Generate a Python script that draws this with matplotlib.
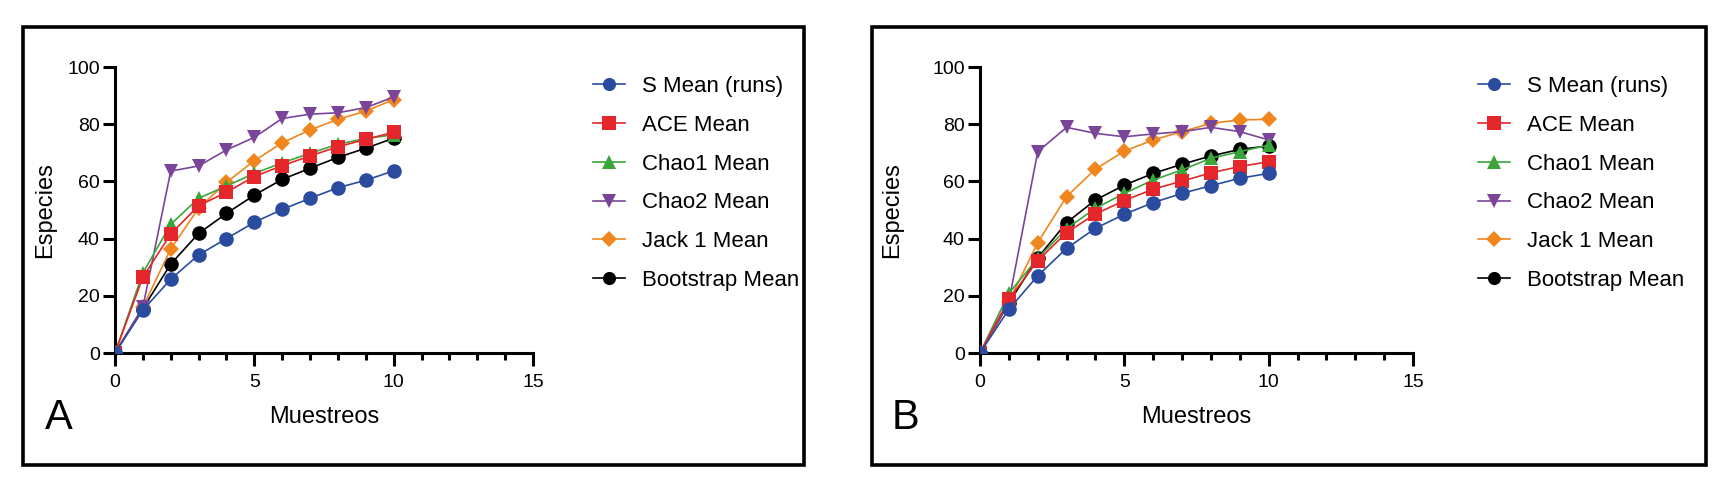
#!/usr/bin/env python3
"""
Species accumulation curves, panels A and B
"""

import numpy as np
from matplotlib import pyplot as plt
from matplotlib.patches import Rectangle

plt.rcParams['font.family'] = ['Liberation Sans', 'DejaVu Sans']

muestreos = [0, 1, 2, 3, 4, 5, 6, 7, 8, 9, 10]

series_labels = ["S Mean (runs)", "ACE Mean", "Chao1 Mean", "Chao2 Mean",
    "Jack 1 Mean", "Bootstrap Mean"]

# panel A
a_s_mean = [0, 15, 25.8, 34.3, 40, 45.7, 50.2, 54.1, 57.8, 60.4, 63.7]
a_ace = [0, 26.5, 41.6, 51.5, 56.2, 61.7, 65.5, 68.9, 72.1, 74.7, 77.2]
a_chao1 = [0, 28, 45, 54.1, 58.4, 62.8, 66.5, 69.8, 73, 75, 76.3]
a_chao2 = [0, 16, 63.6, 65.4, 71, 75.4, 82, 83.5, 84, 85.8, 89.5]
a_jack1 = [0, 16, 36.4, 50.6, 59.7, 67.2, 73.5, 78, 81.7, 84.6, 88.6]
a_boot = [0, 15.5, 31.1, 41.8, 48.8, 55.2, 60.7, 64.6, 68.4, 71.6, 75.1]

# panel B
b_s_mean = [0, 15.3, 27, 36.6, 43.6, 48.5, 52.6, 55.8, 58.5, 61.1, 62.8]
b_ace = [0, 18.8, 32.3, 42.1, 48.6, 53.3, 57.3, 60.1, 63, 65.2, 66.9]
b_chao1 = [0, 20.9, 33.1, 43.5, 50.6, 55.8, 60.5, 64, 68.1, 70.4, 72.7]
b_chao2 = [0, 18, 70.4, 78.9, 76.8, 75.6, 76.6, 77.4, 78.9, 77.4, 74.5]
b_jack1 = [0, 18, 38.6, 54.7, 64.3, 70.6, 74.5, 77.4, 80.3, 81.5, 81.7]
b_boot = [0, 17.5, 33.3, 45.6, 53.5, 58.7, 62.8, 66, 68.9, 71.2, 72.4]

colors = ["#2B4C9E", "#E5262A", "#3AA639", "#7A4599", "#F0861E", "#000000"]
markers = ["o", "s", "^", "v", "D", "o"]
msizes = [10.5, 10.5, 10.5, 10.5, 8.5, 10.5]

W, H = 1727, 498


def fx(px):
    return px / W


def fy(py):
    return 1 - py / H


fig = plt.figure(figsize = (W / 100, H / 100), dpi = 100)

panels = [
    dict(letter = "A", data = [a_s_mean, a_ace, a_chao1, a_chao2, a_jack1, a_boot],
        frame = (23, 804), axx = (115, 533), letter_x = 45, leg_x = 593),
    dict(letter = "B", data = [b_s_mean, b_ace, b_chao1, b_chao2, b_jack1, b_boot],
        frame = (872, 1706), axx = (980, 1413), letter_x = 892, leg_x = 1478),
]

ax_top, ax_bot = 67, 353
n_series = len(series_labels)

for p in panels:
    # outer frame
    f0, f1 = p["frame"]
    fig.patches.append(Rectangle((fx(f0), fy(465)), fx(f1 - f0), (465 - 27) / H,
        transform = fig.transFigure, fill = False, edgecolor = "black",
        linewidth = 2.6, zorder = 0))

    a0, a1 = p["axx"]
    ax = fig.add_axes([fx(a0), fy(ax_bot), fx(a1 - a0), (ax_bot - ax_top) / H])

    # first series sits on top, as in the original
    for i, vals in enumerate(p["data"]):
        ax.plot(muestreos, vals, color = colors[i], marker = markers[i],
            markersize = msizes[i], markeredgewidth = 0, linewidth = 1.2,
            label = series_labels[i], clip_on = True, zorder = 3 + n_series - i)

    ax.set_xlim(0, 15)
    ax.set_ylim(0, 100)
    ax.set_xticks([0, 5, 10, 15])
    ax.set_xticks(np.arange(0, 16), minor = True)
    ax.set_yticks([0, 20, 40, 60, 80, 100])
    ax.spines["top"].set_visible(False)
    ax.spines["right"].set_visible(False)
    for s in ["left", "bottom"]:
        ax.spines[s].set_linewidth(2.2)
    ax.tick_params(axis = "both", which = "major", width = 2.2, length = 9,
        labelsize = 14)
    ax.tick_params(axis = "x", which = "major", pad = 6)
    ax.tick_params(axis = "y", which = "major", pad = 2)
    ax.tick_params(axis = "x", which = "minor", width = 2.2, length = 5)
    ax.tick_params(axis = "y", which = "minor", left = False)

    ax.set_xlabel("Muestreos", size = 17)
    ax.set_ylabel("Especies", size = 17)
    ax.yaxis.set_label_coords((p["letter_x"] - a0) / (a1 - a0), 0.5)
    ax.xaxis.set_label_coords(0.5, (ax_bot - 417) / (ax_bot - ax_top))
    ax.yaxis.label.set_va("center")
    ax.xaxis.label.set_va("center")

    ax.legend(loc = "upper left", bbox_to_anchor = (fx(p["leg_x"]), fy(76)),
        bbox_transform = fig.transFigure, frameon = False, fontsize = 16,
        borderpad = 0, borderaxespad = 0, handlelength = 1.45,
        handletextpad = 0.75, labelspacing = 0.8, markerscale = 0.9)

    fig.text(fx(p["letter_x"]), fy(418), p["letter"], size = 30,
        ha = "left", va = "center")

plt.savefig("out.png", dpi = 100)
plt.close()
